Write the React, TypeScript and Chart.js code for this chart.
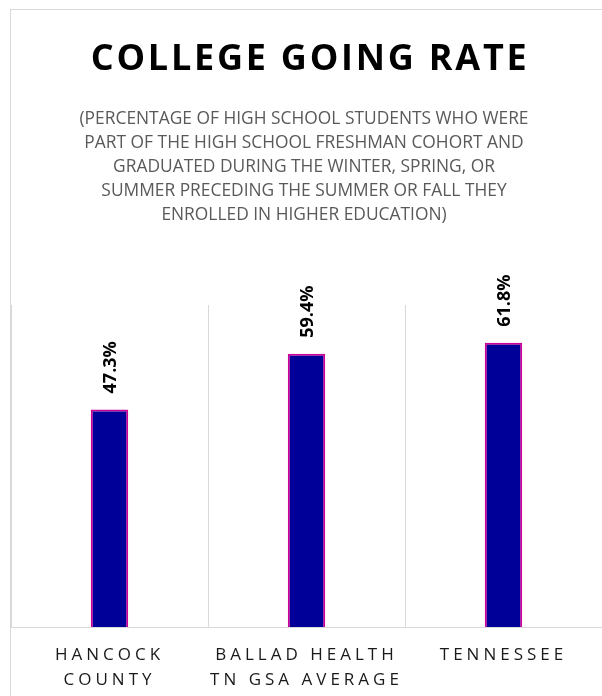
import React, { useEffect, useRef } from 'react';
import { Chart, registerables } from 'chart.js';

Chart.register(...registerables);

const categories: string[][] = [['HANCOCK', 'COUNTY'], ['BALLAD HEALTH', 'TN GSA AVERAGE'], ['TENNESSEE']];
const values: number[] = [47.3, 59.4, 61.8];
const titleText = 'COLLEGE GOING RATE';
const subtitleLines: string[] = [
  '(PERCENTAGE OF HIGH SCHOOL STUDENTS WHO WERE',
  'PART OF THE HIGH SCHOOL FRESHMAN COHORT AND',
  'GRADUATED DURING THE WINTER, SPRING, OR',
  'SUMMER PRECEDING THE SUMMER OR FALL THEY',
  'ENROLLED IN HIGHER EDUCATION)',
];
const yMin = 0;
const yMax = 70;

const W = 602;
const H = 696;

const decorPlugin = {
  id: 'decor',
  beforeDraw(chart: any) {
    const ctx = chart.ctx as CanvasRenderingContext2D;
    ctx.save();
    ctx.fillStyle = '#ffffff';
    ctx.fillRect(0, 0, W, H);
    ctx.strokeStyle = '#d9d9d9';
    ctx.lineWidth = 1;
    ctx.beginPath();
    ctx.moveTo(10, 9.5);
    ctx.lineTo(W, 9.5);
    ctx.moveTo(10.5, 9);
    ctx.lineTo(10.5, H);
    ctx.stroke();
    ctx.restore();
    (ctx as any).letterSpacing = '4px';
  },
  beforeDatasetsDraw(chart: any) {
    (chart.ctx as any).letterSpacing = '0px';
  },
  afterDatasetsDraw(chart: any) {
    const ctx = chart.ctx as CanvasRenderingContext2D;
    const meta = chart.getDatasetMeta(0);
    ctx.save();
    (ctx as any).letterSpacing = '0px';
    ctx.fillStyle = '#000000';
    ctx.font = 'bold 18px "Open Sans"';
    ctx.textAlign = 'left';
    ctx.textBaseline = 'middle';
    meta.data.forEach((bar: any, i: number) => {
      ctx.save();
      ctx.translate(bar.x + 1, bar.y - 16);
      ctx.rotate(-Math.PI / 2);
      ctx.fillText(values[i].toFixed(1) + '%', 0, 0);
      ctx.restore();
    });
    ctx.restore();
  },
  afterDraw(chart: any) {
    const ctx = chart.ctx as CanvasRenderingContext2D;
    ctx.save();
    // title
    ctx.fillStyle = '#000000';
    ctx.font = 'bold 36px "Open Sans"';
    ctx.textBaseline = 'alphabetic';
    ctx.textAlign = 'left';
    (ctx as any).letterSpacing = '0px';
    const w0 = ctx.measureText(titleText).width;
    const targetW = 436;
    const sp = (targetW - w0) / (titleText.length - 1);
    (ctx as any).letterSpacing = sp + 'px';
    ctx.fillText(titleText, 308.7 - targetW / 2, 69.5);
    // subtitle
    (ctx as any).letterSpacing = '0px';
    ctx.fillStyle = '#595959';
    ctx.font = '17.6px "Open Sans"';
    const l1 = ctx.measureText(subtitleLines[0]).width;
    const sx = 449 / l1;
    ctx.textAlign = 'center';
    subtitleLines.forEach((line, i) => {
      ctx.save();
      ctx.translate(304, 123.5 + i * 24);
      ctx.scale(sx, 1);
      ctx.fillText(line, 0, 0);
      ctx.restore();
    });
    ctx.restore();
  },
};

export default function App() {
  const ref = useRef<HTMLCanvasElement | null>(null);
  useEffect(() => {
    document.body.style.margin = '0';
    const canvas = ref.current;
    if (!canvas) return;
    const chart = new Chart(canvas, {
      type: 'bar',
      data: {
        labels: categories as any,
        datasets: [
          {
            data: values,
            backgroundColor: '#000099',
            borderColor: '#CC0099',
            borderWidth: 2,
            barPercentage: 0.19,
            categoryPercentage: 1,
          },
        ],
      },
      options: {
        responsive: false,
        animation: false,
        devicePixelRatio: 1,
        layout: { padding: { top: 305, left: 11, right: 0, bottom: 0 } },
        plugins: {
          legend: { display: false },
          title: { display: false },
          tooltip: { enabled: false },
        },
        scales: {
          x: {
            grid: { color: '#d9d9d9', lineWidth: 1, drawTicks: false, offset: true },
            border: { color: '#d9d9d9', width: 1 },
            ticks: {
              color: '#1a1a1a',
              font: { family: '"Open Sans"', size: 17, lineHeight: 1.51 },
              padding: 15,
              maxRotation: 0,
              autoSkip: false,
            },
            afterFit: (s: any) => {
              s.height = 69;
            },
          },
          y: { display: false, min: yMin, max: yMax },
        },
      },
      plugins: [decorPlugin],
    });
    return () => chart.destroy();
  }, []);
  return (
    <div style={{ width: W, height: H }}>
      <canvas ref={ref} width={W} height={H} style={{ display: 'block' }} />
    </div>
  );
}
